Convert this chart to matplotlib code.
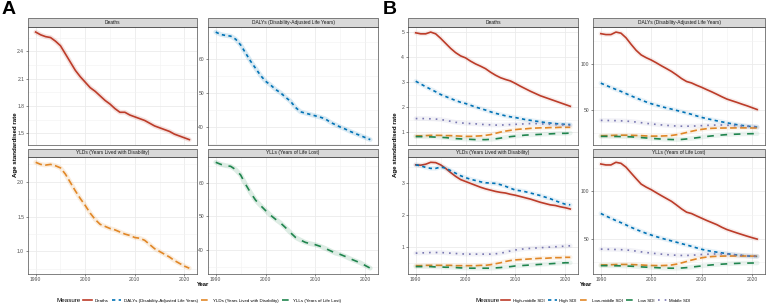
import matplotlib
matplotlib.use('Agg')
import matplotlib.pyplot as plt
from matplotlib.patches import Rectangle
from matplotlib.lines import Line2D
from matplotlib.ticker import MultipleLocator, FormatStrFormatter

plt.rcParams['font.family'] = ['Liberation Sans', 'DejaVu Sans']

YEARS = list(range(1990, 2022))

# ---- panel A: overall age standardised rates ----
A_DEATHS = [2.61, 2.58, 2.56, 2.55, 2.51, 2.46, 2.37, 2.28, 2.19, 2.12, 2.06, 2.00, 1.96, 1.91, 1.86, 1.82,
            1.77, 1.73, 1.73, 1.70, 1.68, 1.66, 1.64, 1.61, 1.58, 1.56, 1.54, 1.52, 1.49, 1.47, 1.45, 1.43]
A_DALYS = [68.0, 67.3, 67.0, 66.8, 65.9, 64.2, 61.8, 59.4, 57.3, 55.2, 53.5, 52.4, 51.1, 50.1, 48.8, 47.6,
           45.8, 44.5, 44.1, 43.7, 43.3, 42.9, 42.4, 41.4, 40.7, 40.0, 39.4, 38.7, 38.1, 37.5, 36.9, 36.3]
A_YLDS = [2.28, 2.25, 2.24, 2.25, 2.23, 2.20, 2.11, 1.99, 1.87, 1.76, 1.66, 1.55, 1.46, 1.39, 1.36, 1.33,
          1.31, 1.28, 1.25, 1.23, 1.20, 1.19, 1.16, 1.10, 1.04, 1.00, 0.96, 0.92, 0.87, 0.83, 0.79, 0.76]
A_YLLS = [66.1, 65.5, 65.1, 64.9, 63.9, 62.3, 59.5, 57.0, 54.8, 53.2, 51.7, 50.3, 49.1, 48.0, 46.6, 45.1,
          43.7, 42.9, 42.2, 41.8, 41.5, 41.0, 40.4, 39.7, 39.0, 38.6, 38.0, 37.3, 36.7, 36.1, 35.3, 34.5]

# ---- panel B: by SDI region ----
B_DEATHS = {
    'High-middle SDI': [4.97, 4.93, 4.93, 5.00, 4.93, 4.75, 4.55, 4.35, 4.18, 4.05, 3.97, 3.84, 3.73, 3.64, 3.54, 3.40,
                        3.28, 3.18, 3.11, 3.05, 2.95, 2.84, 2.74, 2.64, 2.55, 2.46, 2.39, 2.32, 2.25, 2.18, 2.11, 2.04],
    'High SDI': [3.04, 2.93, 2.82, 2.72, 2.62, 2.51, 2.43, 2.35, 2.27, 2.20, 2.15, 2.08, 2.01, 1.95, 1.89, 1.82,
                 1.76, 1.71, 1.66, 1.62, 1.59, 1.55, 1.51, 1.48, 1.45, 1.42, 1.39, 1.37, 1.35, 1.33, 1.32, 1.31],
    'Low-middle SDI': [0.86, 0.86, 0.87, 0.88, 0.88, 0.88, 0.87, 0.87, 0.86, 0.85, 0.84, 0.84, 0.85, 0.86, 0.88, 0.91,
                       0.96, 1.01, 1.05, 1.08, 1.11, 1.13, 1.14, 1.16, 1.17, 1.18, 1.18, 1.19, 1.19, 1.20, 1.20, 1.20],
    'Low SDI': [0.83, 0.83, 0.82, 0.82, 0.81, 0.80, 0.79, 0.77, 0.75, 0.74, 0.73, 0.72, 0.71, 0.71, 0.71, 0.72,
                0.74, 0.77, 0.80, 0.83, 0.85, 0.87, 0.89, 0.90, 0.91, 0.92, 0.93, 0.94, 0.95, 0.96, 0.96, 0.97],
    'Middle SDI': [1.55, 1.55, 1.55, 1.54, 1.53, 1.51, 1.48, 1.44, 1.40, 1.38, 1.36, 1.35, 1.34, 1.32, 1.31, 1.30,
                   1.29, 1.29, 1.30, 1.31, 1.32, 1.33, 1.34, 1.35, 1.35, 1.34, 1.33, 1.32, 1.31, 1.30, 1.29, 1.28],
}
B_DALYS = {
    'High-middle SDI': [132.5, 131.5, 131.5, 134.2, 133.0, 128.0, 121.0, 114.5, 109.5, 106.5, 104.0, 101.0, 97.8, 94.8, 91.7, 88.0,
                        84.0, 80.8, 79.2, 76.7, 74.5, 72.0, 69.6, 67.0, 64.3, 61.8, 60.0, 58.2, 56.3, 54.5, 52.5, 50.5],
    'High SDI': [79.0, 76.7, 74.4, 72.2, 70.1, 67.7, 65.3, 63.0, 60.8, 58.7, 56.8, 55.2, 53.7, 52.3, 51.0, 49.6,
                 48.2, 46.8, 45.3, 43.6, 42.0, 40.7, 39.5, 38.3, 37.2, 36.2, 35.1, 34.1, 33.3, 32.6, 32.0, 31.5],
    'Low-middle SDI': [22.2, 22.3, 22.5, 22.7, 22.8, 22.8, 22.7, 22.5, 22.3, 22.0, 21.8, 21.8, 21.9, 22.1, 22.5, 23.3,
                       24.4, 25.7, 27.0, 28.2, 29.1, 29.8, 30.2, 30.4, 30.5, 30.6, 30.6, 30.7, 30.7, 30.7, 30.6, 30.6],
    'Low SDI': [21.5, 21.5, 21.4, 21.4, 21.3, 21.2, 21.0, 20.6, 20.2, 19.8, 19.4, 19.0, 18.6, 18.3, 18.1, 18.0,
                18.2, 18.7, 19.3, 20.0, 20.7, 21.4, 22.0, 22.5, 23.0, 23.4, 23.7, 23.9, 24.1, 24.3, 24.4, 24.4],
    'Middle SDI': [38.8, 38.7, 38.6, 38.5, 38.3, 38.0, 37.6, 37.0, 36.3, 35.6, 35.0, 34.4, 33.9, 33.4, 33.0, 32.7,
                   32.5, 32.5, 32.6, 32.8, 33.1, 33.4, 33.6, 33.8, 33.8, 33.6, 33.3, 33.0, 32.7, 32.4, 32.2, 32.0],
}
B_YLDS = {
    'High-middle SDI': [3.58, 3.57, 3.60, 3.66, 3.65, 3.58, 3.47, 3.34, 3.22, 3.12, 3.06, 3.00, 2.94, 2.88, 2.83, 2.79,
                        2.75, 2.72, 2.70, 2.66, 2.63, 2.59, 2.55, 2.51, 2.46, 2.41, 2.37, 2.33, 2.31, 2.27, 2.24, 2.20],
    'High SDI': [3.58, 3.55, 3.50, 3.47, 3.47, 3.51, 3.48, 3.40, 3.32, 3.24, 3.18, 3.13, 3.09, 3.05, 3.02, 3.01,
                 3.00, 2.96, 2.91, 2.85, 2.79, 2.77, 2.74, 2.70, 2.66, 2.62, 2.57, 2.52, 2.46, 2.40, 2.35, 2.33],
    'Low-middle SDI': [0.43, 0.43, 0.44, 0.44, 0.44, 0.44, 0.44, 0.44, 0.43, 0.43, 0.43, 0.43, 0.43, 0.44, 0.44, 0.46,
                       0.49, 0.52, 0.56, 0.59, 0.61, 0.62, 0.63, 0.64, 0.65, 0.66, 0.66, 0.67, 0.68, 0.68, 0.69, 0.69],
    'Low SDI': [0.40, 0.40, 0.40, 0.40, 0.39, 0.39, 0.38, 0.38, 0.37, 0.36, 0.36, 0.35, 0.35, 0.35, 0.35, 0.35,
                0.36, 0.37, 0.39, 0.40, 0.42, 0.43, 0.44, 0.45, 0.46, 0.47, 0.48, 0.49, 0.50, 0.51, 0.52, 0.52],
    'Middle SDI': [0.82, 0.83, 0.83, 0.84, 0.84, 0.84, 0.83, 0.82, 0.81, 0.80, 0.79, 0.79, 0.79, 0.79, 0.79, 0.79,
                   0.80, 0.82, 0.85, 0.89, 0.92, 0.94, 0.96, 0.97, 0.98, 0.99, 1.00, 1.01, 1.02, 1.03, 1.04, 1.05],
}
B_YLLS = {
    'High-middle SDI': [129.0, 128.0, 128.0, 130.8, 129.7, 125.6, 119.5, 113.5, 107.7, 104.5, 101.8, 98.6, 95.5, 92.5, 89.5, 85.6,
                        81.5, 78.0, 76.5, 74.0, 71.6, 69.2, 67.0, 64.8, 62.0, 59.6, 57.8, 56.0, 54.3, 52.6, 51.0, 49.5],
    'High SDI': [76.6, 74.0, 71.5, 69.1, 66.9, 64.5, 62.0, 59.7, 57.6, 55.6, 53.8, 52.1, 50.5, 49.0, 47.6, 46.2,
                 44.7, 43.3, 41.8, 40.2, 38.7, 37.5, 36.5, 35.7, 34.9, 34.1, 33.3, 32.6, 32.1, 31.7, 31.4, 31.2],
    'Low-middle SDI': [22.1, 22.2, 22.4, 22.6, 22.7, 22.7, 22.6, 22.4, 22.1, 21.8, 21.6, 21.5, 21.5, 21.7, 22.1, 23.0,
                       24.3, 25.8, 27.3, 28.6, 29.7, 30.5, 31.0, 31.3, 31.5, 31.6, 31.6, 31.6, 31.6, 31.6, 31.5, 31.5],
    'Low SDI': [21.4, 21.4, 21.3, 21.3, 21.2, 21.0, 20.8, 20.5, 20.1, 19.8, 19.6, 19.3, 19.0, 18.8, 18.7, 18.7,
                18.9, 19.3, 19.9, 20.5, 21.1, 21.7, 22.2, 22.6, 23.0, 23.3, 23.6, 23.8, 24.0, 24.1, 24.2, 24.2],
    'Middle SDI': [38.9, 38.8, 38.6, 38.5, 38.3, 38.0, 37.5, 36.8, 36.0, 35.3, 34.7, 34.1, 33.6, 33.1, 32.7, 32.4,
                   32.2, 32.2, 32.4, 32.8, 33.2, 33.5, 33.7, 33.8, 33.8, 33.6, 33.2, 32.8, 32.3, 31.9, 31.5, 31.2],
}

A_MEASURES = ['Deaths', 'DALYs (Disability-Adjusted Life Years)',
              'YLDs (Years Lived with Disability)', 'YLLs (Years of Life Lost)']
SDI_GROUPS = ['High-middle SDI', 'High SDI', 'Low-middle SDI', 'Low SDI', 'Middle SDI']

# NEJM-like palette, ggplot default linetypes
COLORS = ['#BC3C29', '#0072B5', '#E18727', '#20854E', '#7876B1']
DASHES = [None, (2, 2), (4, 2), (4, 4), (1, 3)]

W, H = 767, 305
LW = 1.2


def px_axes(fig, x0, x1, y0, y1):
    return fig.add_axes([x0 / W, 1 - y1 / H, (x1 - x0) / W, (y1 - y0) / H])


def style_axes(ax, title, step, fmt, bottom_row):
    ax.set_facecolor('white')
    for sp in ax.spines.values():
        sp.set_color('#4d4d4d')
        sp.set_linewidth(0.5)
    ax.set_xticks([1990, 2000, 2010, 2020])
    ax.xaxis.set_minor_locator(MultipleLocator(5))
    ax.yaxis.set_major_locator(MultipleLocator(step))
    ax.yaxis.set_minor_locator(MultipleLocator(step / 2))
    ax.yaxis.set_major_formatter(FormatStrFormatter(fmt))
    ax.grid(which='major', color='#EBEBEB', lw=0.6)
    ax.grid(which='minor', color='#F2F2F2', lw=0.4)
    ax.set_axisbelow(True)
    ax.tick_params(which='major', length=1.6, width=0.4, color='#333333',
                   labelsize=3.6, labelcolor='#4d4d4d', pad=1.2)
    ax.tick_params(which='minor', length=0)
    if not bottom_row:
        ax.tick_params(axis='x', length=0, labelbottom=False)
    sh = 0.072
    ax.add_patch(Rectangle((0, 1), 1, sh, transform=ax.transAxes, clip_on=False,
                           facecolor='#D9D9D9', edgecolor='#4d4d4d', lw=0.5))
    ax.text(0.5, 1 + sh / 2, title, transform=ax.transAxes, ha='center', va='center',
            fontsize=3.5, color='#1a1a1a')


def draw_line(ax, y, i, halo=0.13):
    # soft halo under each line (ribbon look of the original)
    ax.plot(YEARS, y, color=COLORS[i], lw=3.4, alpha=halo, solid_capstyle='round')
    ln, = ax.plot(YEARS, y, color=COLORS[i], lw=LW)
    if DASHES[i] is not None:
        ln.set_dashes(DASHES[i])
    return ln


fig = plt.figure(figsize=(W / 100, H / 100), dpi=100)

# panel A
a_data = [A_DEATHS, A_DALYS, A_YLDS, A_YLLS]
a_steps = [(0.3, '%.1f'), (10, '%d'), (0.5, '%.1f'), (10, '%d')]
a_pos = [(28, 197, 26.7, 145), (208, 378, 26.7, 145),
         (28, 197, 157, 273.5), (208, 378, 157, 273.5)]
for k in range(4):
    ax = px_axes(fig, *a_pos[k])
    draw_line(ax, a_data[k], k, 0.15)
    style_axes(ax, A_MEASURES[k], a_steps[k][0], a_steps[k][1], k >= 2)

# panel B
b_data = [B_DEATHS, B_DALYS, B_YLDS, B_YLLS]
b_steps = [1, 50, 1, 50]
b_pos = [(408, 578, 26.7, 145), (593, 765, 26.7, 145),
         (408, 578, 157, 273.5), (593, 765, 157, 273.5)]
for k in range(4):
    ax = px_axes(fig, *b_pos[k])
    for i, g in enumerate(SDI_GROUPS):
        draw_line(ax, b_data[k][g], i, 0.09)
    style_axes(ax, A_MEASURES[k], b_steps[k], '%d', k >= 2)

# panel letters and shared labels
fig.text(2 / W, 1 - 1 / H, 'A', fontsize=14, fontweight='bold', va='top', ha='left')
fig.text(383 / W, 1 - 1 / H, 'B', fontsize=14, fontweight='bold', va='top', ha='left')
for xc, xl in [(15, 203), (396, 586)]:
    fig.text(xc / W, 1 - 145 / H, 'Age standardised rate', rotation=90, ha='center', va='center',
             fontsize=4.4, fontweight='bold')
    fig.text(xl / W, 1 - 285 / H, 'Year', ha='center', va='center', fontsize=4.2, fontweight='bold')


def make_legend(labels, x_title, x_leg):
    handles = []
    for i, lab in enumerate(labels):
        h = Line2D([], [], color=COLORS[i], lw=LW)
        if DASHES[i] is not None:
            h.set_dashes(DASHES[i])
        handles.append(h)
    fig.text(x_title / W, 1 - 300.5 / H, 'Measure', ha='left', va='center', fontsize=4.5)
    leg = fig.legend(handles, labels, loc='center left', bbox_to_anchor=(x_leg / W, 1 - 300.5 / H),
                     ncol=len(labels), frameon=False, fontsize=3.2, handlelength=2.0,
                     handletextpad=0.6, columnspacing=0.8, borderaxespad=0, borderpad=0)
    return leg


make_legend(A_MEASURES, 57, 83)
make_legend(SDI_GROUPS, 476, 501)

fig.savefig('out.png', dpi=100)
